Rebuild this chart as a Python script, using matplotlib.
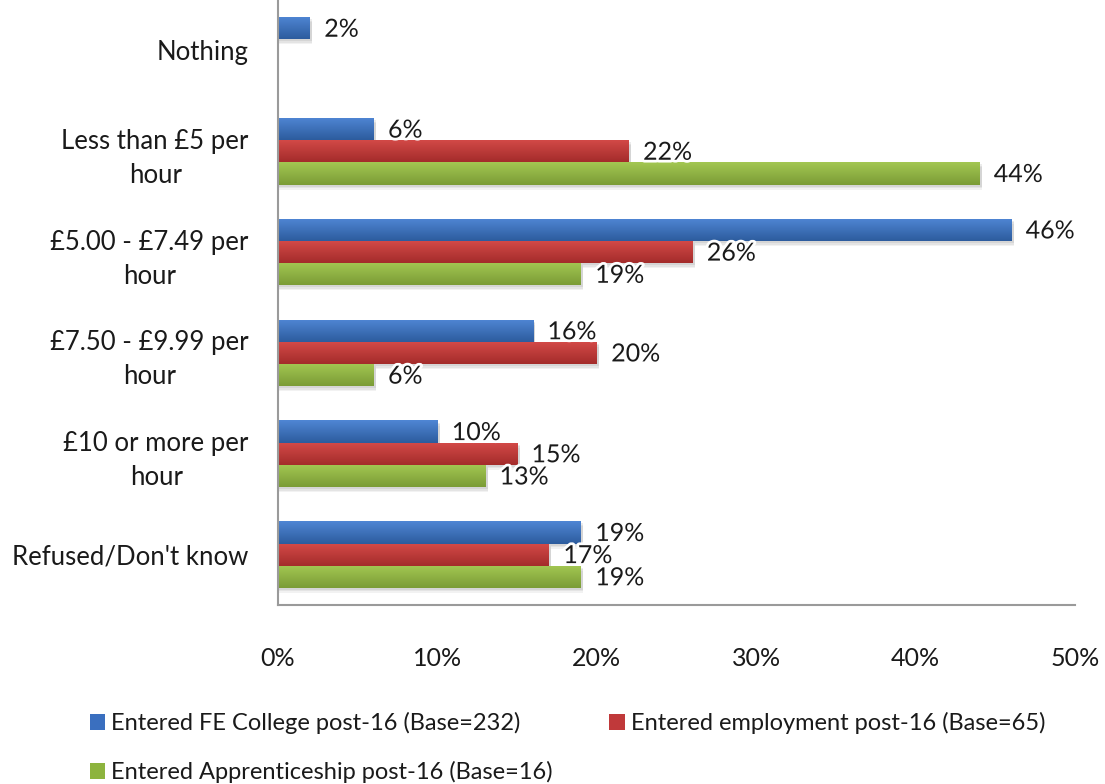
#Horizontal grouped bar chart: hourly pay by destination post-16
import numpy as np
import matplotlib
matplotlib.use('Agg')
import matplotlib.pyplot as plt
import matplotlib.patheffects as pe
from matplotlib.patches import Patch
from matplotlib.colors import LinearSegmentedColormap

plt.rcParams['font.family'] = ['Lato', 'DejaVu Sans']

#data
categories = ["Nothing", "Less than £5 per\nhour", "£5.00 - £7.49 per\nhour",
              "£7.50 - £9.99 per\nhour", "£10 or more per\nhour", "Refused/Don't know"]
fe_college = [2, 6, 46, 16, 10, 19]
employment = [None, 22, 26, 20, 15, 17]
apprenticeship = [None, 44, 19, 6, 13, 19]
series_names = ["Entered FE College post-16 (Base=232)",
                "Entered employment post-16 (Base=65)",
                "Entered Apprenticeship post-16 (Base=16)"]
xticks = [0, 10, 20, 30, 40, 50]

#colours: (top of bar, bottom of bar, legend swatch)
colours = [("#4f86d4", "#2d5c9e", "#3a6fbf"),
           ("#d44a48", "#a42c2b", "#c0393a"),
           ("#a3c752", "#7b9c36", "#8db43e")]

fig = plt.figure(figsize=(11.05, 7.84), dpi=100)
ax = fig.add_axes([0.2516, 0.2283, 0.7213, 0.7717])

y = np.arange(len(categories))
h = 0.22
offsets = [-h, 0, h]
fs = 18

for k, vals in enumerate([fe_college, employment, apprenticeship]):
    top, bot, _ = colours[k]
    cmap = LinearSegmentedColormap.from_list("g%d" % k, [top, bot])
    for i, v in enumerate(vals):
        if v is None:
            continue
        yc = y[i] + offsets[k]
        #soft shadow under the bar
        for s, a in [(0.05, 0.10), (0.035, 0.12), (0.02, 0.15)]:
            ax.barh(yc + s, v + 0.15, height=h, left=0, color='gray', alpha=a,
                    linewidth=0, zorder=1)
        bar = ax.barh(yc, v, height=h, color='none', linewidth=0, zorder=2)[0]
        grad = np.linspace(0, 1, 50).reshape(-1, 1)
        im = ax.imshow(grad, cmap=cmap, aspect='auto', zorder=2,
                       extent=[0, v, yc + h / 2, yc - h / 2], origin='upper')
        im.set_clip_path(bar)
        ax.text(v + 0.9, yc + 0.01, "%d%%" % v, va='center', ha='left', fontsize=fs,
                color='#1a1a1a', zorder=5,
                path_effects=[pe.withStroke(linewidth=4, foreground='white')])

ax.set_xlim(0, 50)
ax.set_ylim(len(categories) - 0.5, -0.5)
ax.set_xticks(xticks)
ax.set_xticklabels(["%d%%" % t for t in xticks], fontsize=fs, color='#1a1a1a')
ax.set_yticks(y)
ax.set_yticklabels(categories, fontsize=fs + 0.5, color='#1a1a1a',
                   multialignment='center', linespacing=1.45)
ax.tick_params(axis='x', length=0, pad=30)
ax.tick_params(axis='y', length=0, pad=21)
for side in ['top', 'right']:
    ax.spines[side].set_visible(False)
for side in ['left', 'bottom']:
    ax.spines[side].set_color('#9a9a9a')
    ax.spines[side].set_linewidth(1.5)

#legend below the chart, filled row by row
order = [0, 2, 1]
handles = [Patch(facecolor=colours[j][2], edgecolor='none') for j in order]
labels = [series_names[j] for j in order]
fig.legend(handles, labels, ncol=2, loc='upper left',
           bbox_to_anchor=(0.062, 0.119), frameon=False, fontsize=17,
           handlelength=0.65, handleheight=0.65, handletextpad=0.25,
           columnspacing=2.4, labelspacing=1.15, labelcolor='#1a1a1a')

fig.savefig("out.png", dpi=100)
